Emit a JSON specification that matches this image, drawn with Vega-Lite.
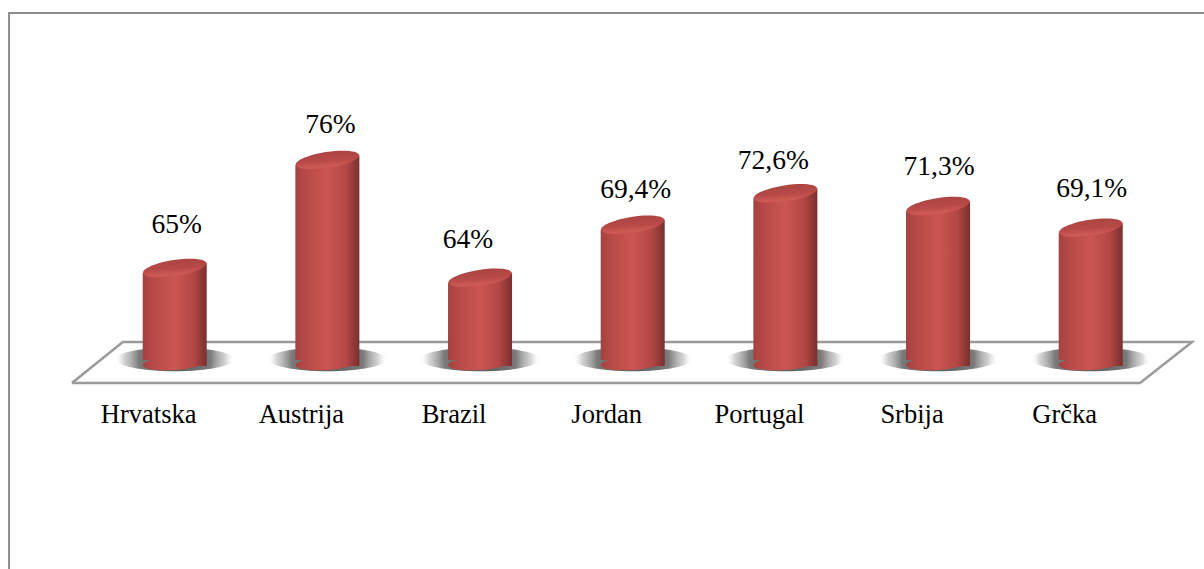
{"$schema":"https://vega.github.io/schema/vega-lite/v6.json","width":1204,"height":569,"autosize":{"type":"none"},"padding":0,"background":"#ffffff","config":{"view":{"stroke":null}},
"datasets":{"bars":[{"category":"Hrvatska","value":65,"label":"65%"},{"category":"Austrija","value":76,"label":"76%"},{"category":"Brazil","value":64,"label":"64%"},{"category":"Jordan","value":69.4,"label":"69,4%"},{"category":"Portugal","value":72.6,"label":"72,6%"},{"category":"Srbija","value":71.3,"label":"71,3%"},{"category":"Grčka","value":69.1,"label":"69,1%"}],
"floor":[{"u":0.327,"w":53.3,"o":1},{"u":0.66,"w":57.46,"o":2},{"u":7.664,"w":57.46,"o":3},{"u":7.323,"w":53.3,"o":4},{"u":0.327,"w":53.3,"o":5}],
"frame":[{"u":-0.085,"w":34.35,"o":1},{"u":-0.085,"w":90.97,"o":2},{"u":7.742,"w":90.97,"o":3}]},
"data":{"name":"bars"},
"encoding":{"x":{"field":"category","type":"nominal","sort":null,"axis":null,"scale":{"type":"point","domain":["Hrvatska","Austrija","Brazil","Jordan","Portugal","Srbija","Grčka"],"range":[174.7,1090.7],"padding":0}},
"y":{"field":"value","type":"quantitative","axis":null,"scale":{"domain":[34.35,92.29],"nice":false,"zero":false}}},
"layer":[
{"data":{"name":"frame"},"mark":{"type":"line","color":"#8c8c8c","strokeWidth":2,"clip":false},"encoding":{"x":{"field":"u","type":"quantitative","axis":null,"scale":{"domain":[-0.1443,7.742],"nice":false,"zero":false}},"y":{"field":"w","type":"quantitative","axis":null},"order":{"field":"o"}}},
{"data":{"name":"floor"},"mark":{"type":"line","color":"#9a9a9a","strokeWidth":2.5,"strokeJoin":"miter"},"encoding":{"x":{"field":"u","type":"quantitative","axis":null,"scale":{"domain":[-0.1443,7.742],"nice":false,"zero":false}},"y":{"field":"w","type":"quantitative","axis":null},"order":{"field":"o"}}},
{"mark":{"type":"point","filled":true,"opacity":1,"size":14400,"shape":"M 1 0 C 1 0.105 0.552 0.2 0 0.2 C -0.552 0.2 -1 0.105 -1 0 C -1 -0.105 -0.552 -0.2 0 -0.2 C 0.552 -0.2 1 -0.105 1 0 Z","fill":{"gradient":"radial","x1":0.5,"y1":0.5,"r1":0,"x2":0.5,"y2":0.5,"r2":0.5,"stops":[{"offset":0,"color":"#555555"},{"offset":0.6,"color":"#7a7a7a"},{"offset":0.85,"color":"rgba(185,185,185,0.6)"},{"offset":1,"color":"rgba(255,255,255,0)"}]}},"encoding":{"y":{"datum":55.7,"type":"quantitative"}}},
{"mark":{"type":"point","filled":true,"opacity":1,"size":4096,"shape":"M 0.9976 -0.07 C 1.0061 0.0512 0.5664 0.1808 0.0154 0.2195 C -0.5356 0.2582 -0.9891 0.1912 -0.9976 0.07 C -1.0061 -0.0512 -0.5664 -0.1808 -0.0154 -0.2195 C 0.5356 -0.2582 0.9891 -0.1912 0.9976 -0.07 Z","fill":{"gradient":"linear","x1":0,"x2":1,"y1":0,"y2":0,"stops":[{"offset":0,"color":"#a24240"},{"offset":0.12,"color":"#b44846"},{"offset":0.5,"color":"#cb5553"},{"offset":0.8,"color":"#b24745"},{"offset":1,"color":"#7a302e"}]}},"encoding":{"y":{"datum":55.33,"type":"quantitative"}}},
{"mark":{"type":"bar","size":33,"xOffset":-15.5,"yOffset":5,"color":{"gradient":"linear","x1":0,"x2":1,"y1":0,"y2":0,"stops":[{"offset":0,"color":"#a24240"},{"offset":0.24,"color":"#b44846"},{"offset":0.97,"color":"#cb5553"},{"offset":1,"color":"#cb5553"}]}},"encoding":{"y2":{"datum":55.63}}},
{"mark":{"type":"bar","size":32,"xOffset":16,"yOffset":-5,"color":{"gradient":"linear","x1":0,"x2":1,"y1":0,"y2":0,"stops":[{"offset":0,"color":"#cb5553"},{"offset":0.6,"color":"#b24745"},{"offset":1,"color":"#7a302e"}]}},"encoding":{"y2":{"datum":55.02}}},
{"mark":{"type":"point","filled":true,"opacity":1,"size":4096,"shape":"M 0.988 -0.156 C 1.0095 -0.0196 0.5847 0.1608 0.039 0.247 C -0.5067 0.3332 -0.9665 0.2924 -0.988 0.156 C -1.0095 0.0196 -0.5847 -0.1608 -0.039 -0.247 C 0.5067 -0.3332 0.9665 -0.2924 0.988 -0.156 Z","fill":{"gradient":"linear","x1":0.3,"x2":0.55,"y1":0,"y2":1,"stops":[{"offset":0,"color":"#a84341"},{"offset":0.55,"color":"#b84a48"},{"offset":0.85,"color":"#cf5a56"},{"offset":1,"color":"#c24e4c"}]}}},
{"transform":[{"filter":"datum.category==='Hrvatska'"}],"mark":{"type":"text","font":"Liberation Serif","fontSize":27.5,"color":"#000000","dx":2,"dy":-43},"encoding":{"text":{"field":"label"}}},
{"transform":[{"filter":"datum.category==='Austrija'||datum.category==='Jordan'"}],"mark":{"type":"text","font":"Liberation Serif","fontSize":27.5,"color":"#000000","dx":3,"dy":-35},"encoding":{"text":{"field":"label"}}},
{"transform":[{"filter":"datum.category==='Brazil'"}],"mark":{"type":"text","font":"Liberation Serif","fontSize":27.5,"color":"#000000","dx":-12,"dy":-38},"encoding":{"text":{"field":"label"}}},
{"transform":[{"filter":"datum.category==='Portugal'"}],"mark":{"type":"text","font":"Liberation Serif","fontSize":27.5,"color":"#000000","dx":-12,"dy":-32},"encoding":{"text":{"field":"label"}}},
{"transform":[{"filter":"datum.category==='Srbija'||datum.category==='Grčka'"}],"mark":{"type":"text","font":"Liberation Serif","fontSize":27.5,"color":"#000000","dx":1,"dy":-39},"encoding":{"text":{"field":"label"}}},
{"mark":{"type":"text","font":"Liberation Serif","fontSize":26.5,"color":"#000000","dx":-26},"encoding":{"y":{"datum":50.03,"type":"quantitative"},"text":{"field":"category"}}}
],
"resolve":{"scale":{"x":"independent"}}}
